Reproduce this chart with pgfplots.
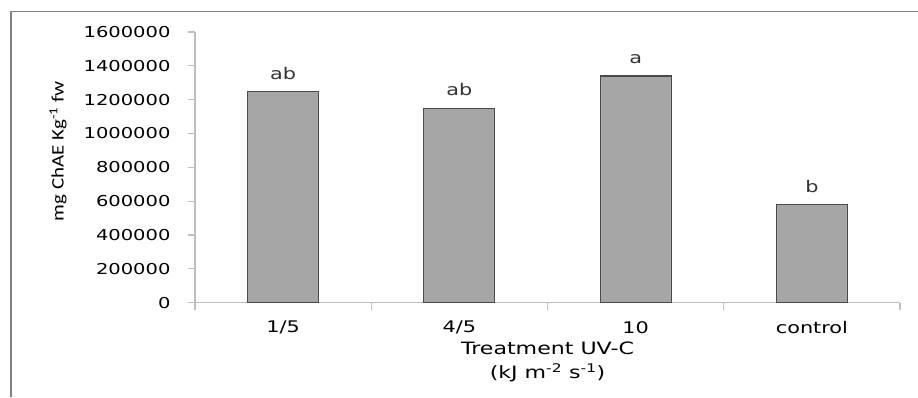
\documentclass[border=0pt]{standalone}
\usepackage{pgfplots}
\pgfplotsset{compat=1.18}
\usepackage{fontspec}
\setmainfont{DejaVu Sans}[FakeStretch=1.3]
\newfontfamily\labelfont{Carlito}[FakeStretch=1.2]
\definecolor{barfill}{HTML}{A6A6A6}
\definecolor{baredge}{HTML}{4A4A4A}
\definecolor{axisgray}{HTML}{BEBEBE}
\definecolor{framegray}{HTML}{808080}
\begin{document}
\begin{tikzpicture}
\useasboundingbox (0pt,0pt) rectangle (918pt,397pt);
\draw[framegray,line width=1.5pt] (11pt,0pt) -- (11pt,385.5pt) -- (918pt,385.5pt);
\begin{axis}[
  at={(195pt,94.3pt)}, anchor=south west,
  scale only axis, width=705pt, height=270.7pt,
  xmin=0, xmax=4, ymin=0, ymax=1600000,
  axis x line*=bottom, axis y line*=left,
  axis line style={axisgray,line width=1.2pt},
  separate axis lines,
  ytick={0,200000,...,1600000},
  scaled y ticks=false,
  yticklabel style={/pgf/number format/fixed,/pgf/number format/1000 sep={},font=\fontsize{15}{15}\selectfont},
  /pgf/number format/assume math mode=true,
  xtick={0.5,1.5,2.5,3.5},
  xticklabels={1/5,4/5,10,control},
  xticklabel style={font=\fontsize{16}{16}\selectfont},
  major x tick style={draw=none},
  minor xtick={0,1,2,3,4},
  minor x tick style={axisgray,line width=1.2pt},
  y tick style={axisgray,line width=1.2pt},
  tick align=outside,
  major tick length=7pt, minor tick length=7pt,
  yticklabel shift=14pt,
  xticklabel shift=8pt,
  ybar, bar width=71pt,
  nodes near coords,
  point meta=explicit symbolic,
  every node near coord/.append style={font=\fontsize{16}{16}\selectfont, yshift=8pt, text=black!80},
  xlabel={Treatment UV-C\\(kJ m\textsuperscript{-2} s\textsuperscript{-1})},
  xlabel style={align=center,font=\fontsize{17}{24}\selectfont, at={(axis description cs:0.5,0)}, anchor=north, yshift=-36pt},
  ylabel={\labelfont mg ChAE Kg\textsuperscript{-1} fw},
  ylabel style={font=\fontsize{17.5}{17.5}\selectfont, at={(axis description cs:0,0.56)}, anchor=center, yshift=137pt},
  clip=false,
]
\addplot[fill=barfill, draw=baredge, line width=1.2pt] coordinates {
  (0.5,1250000) [ab]
  (1.5,1150000) [ab]
  (2.5,1340000) [a]
  (3.5,580000) [b]
};
\end{axis}
\end{tikzpicture}
\end{document}
